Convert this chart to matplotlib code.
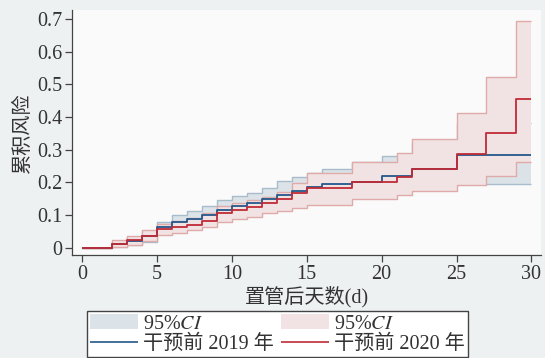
import numpy as np
import matplotlib
matplotlib.use("Agg")
import matplotlib.pyplot as plt
from matplotlib.patches import Patch
from matplotlib.lines import Line2D

plt.rcParams['font.family'] = ['Liberation Serif', 'Noto Sans CJK SC']
plt.rcParams['mathtext.fontset'] = 'stix'
plt.rcParams['lines.solid_capstyle'] = 'butt'

# Days after catheter placement at which the cumulative risk steps
days = [0, 2, 3, 4, 5, 6, 7, 8, 9, 10, 11, 12, 13, 14, 15, 16, 18, 20, 21, 22, 25, 27, 29]

# 2019 (before intervention): cumulative risk and 95% CI
risk_2019 = [0, 0.010, 0.022, 0.036, 0.062, 0.080, 0.087, 0.101, 0.116, 0.127, 0.136, 0.148,
             0.162, 0.173, 0.186, 0.194, 0.201, 0.219, 0.219, 0.241, 0.284, 0.284, 0.284]
lo_2019 = [0, 0.002, 0.008, 0.018, 0.042, 0.058, 0.063, 0.075, 0.088, 0.097, 0.104, 0.115,
           0.125, 0.133, 0.145, 0.152, 0.158, 0.172, 0.172, 0.190, 0.194, 0.194, 0.194]
hi_2019 = [0, 0.020, 0.034, 0.050, 0.080, 0.100, 0.113, 0.128, 0.146, 0.158, 0.168, 0.182,
           0.204, 0.215, 0.230, 0.240, 0.263, 0.281, 0.281, 0.320, 0.380, 0.380, 0.380]

# 2020 (before intervention): cumulative risk and 95% CI
risk_2020 = [0, 0.010, 0.024, 0.036, 0.057, 0.062, 0.068, 0.083, 0.106, 0.115, 0.125, 0.138,
             0.148, 0.166, 0.182, 0.182, 0.201, 0.201, 0.217, 0.241, 0.287, 0.350, 0.456]
lo_2020 = [0, 0.002, 0.008, 0.021, 0.039, 0.046, 0.054, 0.064, 0.080, 0.087, 0.095, 0.105,
           0.113, 0.120, 0.132, 0.132, 0.149, 0.149, 0.161, 0.173, 0.192, 0.219, 0.261]
hi_2020 = [0, 0.024, 0.036, 0.054, 0.072, 0.083, 0.090, 0.105, 0.128, 0.136, 0.146, 0.156,
           0.171, 0.197, 0.230, 0.230, 0.263, 0.263, 0.290, 0.334, 0.413, 0.523, 0.694]

end_day = 30
x_ticks = [0, 5, 10, 15, 20, 25, 30]
y_ticks = [0, 0.1, 0.2, 0.3, 0.4, 0.5, 0.6, 0.7]
y_ticklabels = ["0", "0.1", "0.2", "0.3", "0.4", "0.5", "0.6", "0.7"]


def extend(vals):
    # carry the last step out to the end of follow-up
    return np.array(list(vals) + [vals[-1]])


x = np.array(days + [end_day])

blue_line = "#23578a"
red_line = "#c02a36"
blue_fill = "#dce3e8"
blue_edge = "#a8bccb"
red_fill = "#f1e3e3"
red_edge = "#dfaaaa"

fig = plt.figure(figsize=(5.45, 3.58), dpi=100, facecolor="#eef1f1")
ax = fig.add_axes([0.132, 0.288, 0.861, 0.684])
ax.set_facecolor("#fafafa")

# 2019 band underneath, 2020 band drawn over it
ax.fill_between(x, extend(lo_2019), extend(hi_2019), step="post", color=blue_fill, lw=0, zorder=1)
ax.step(x, extend(lo_2019), where="post", color=blue_edge, lw=1.0, zorder=1.1)
ax.step(x, extend(hi_2019), where="post", color=blue_edge, lw=1.0, zorder=1.1)

ax.fill_between(x, extend(lo_2020), extend(hi_2020), step="post", color=red_fill, lw=0, zorder=2)
ax.step(x, extend(lo_2020), where="post", color=red_edge, lw=1.0, zorder=2.1)
ax.step(x, extend(hi_2020), where="post", color=red_edge, lw=1.0, zorder=2.1)

# cumulative risk curves
ax.step(x, extend(risk_2019), where="post", color=blue_line, lw=1.3, zorder=3)
ax.step(x, extend(risk_2020), where="post", color=red_line, lw=1.3, zorder=3.1)

ax.set_xlim(-0.67, 30.65)
ax.set_ylim(-0.022, 0.727)
ax.set_xticks(x_ticks)
ax.set_yticks(y_ticks)
ax.set_yticklabels(y_ticklabels)
ax.tick_params(axis="both", direction="out", length=5, width=0.9, color="#444444",
               labelsize=14.5, labelcolor="#333333", pad=2)

for side in ("top", "right"):
    ax.spines[side].set_visible(False)
for side in ("left", "bottom"):
    ax.spines[side].set_color("#444444")
    ax.spines[side].set_linewidth(0.9)

ax.set_xlabel("置管后天数(d)", fontsize=14.5, color="#333333", labelpad=2)
ax.set_ylabel("累积风险", fontsize=14.5, color="#333333", labelpad=3)

handles = [
    Patch(facecolor=blue_fill, edgecolor="none"),
    Line2D([], [], color=blue_line, lw=1.2),
    Patch(facecolor=red_fill, edgecolor="none"),
    Line2D([], [], color=red_line, lw=1.2),
]
labels = ["95%$\\mathit{CI}$", "干预前 2019 年", "95%$\\mathit{CI}$", "干预前 2020 年"]
leg = fig.legend(handles, labels, ncol=2, loc="upper center",
                 bbox_to_anchor=(277.5 / 545, 1 - 311 / 358),
                 fontsize=14.5, frameon=True, fancybox=False, framealpha=1,
                 edgecolor="#444444", facecolor="white", handlelength=2.4,
                 handleheight=0.8, handletextpad=0.25, columnspacing=0.35,
                 labelspacing=0.05, borderpad=0.15, borderaxespad=0)
leg.get_frame().set_linewidth(1.0)
for t in leg.get_texts():
    t.set_color("#333333")

fig.savefig("out.png", dpi=100, facecolor=fig.get_facecolor())
